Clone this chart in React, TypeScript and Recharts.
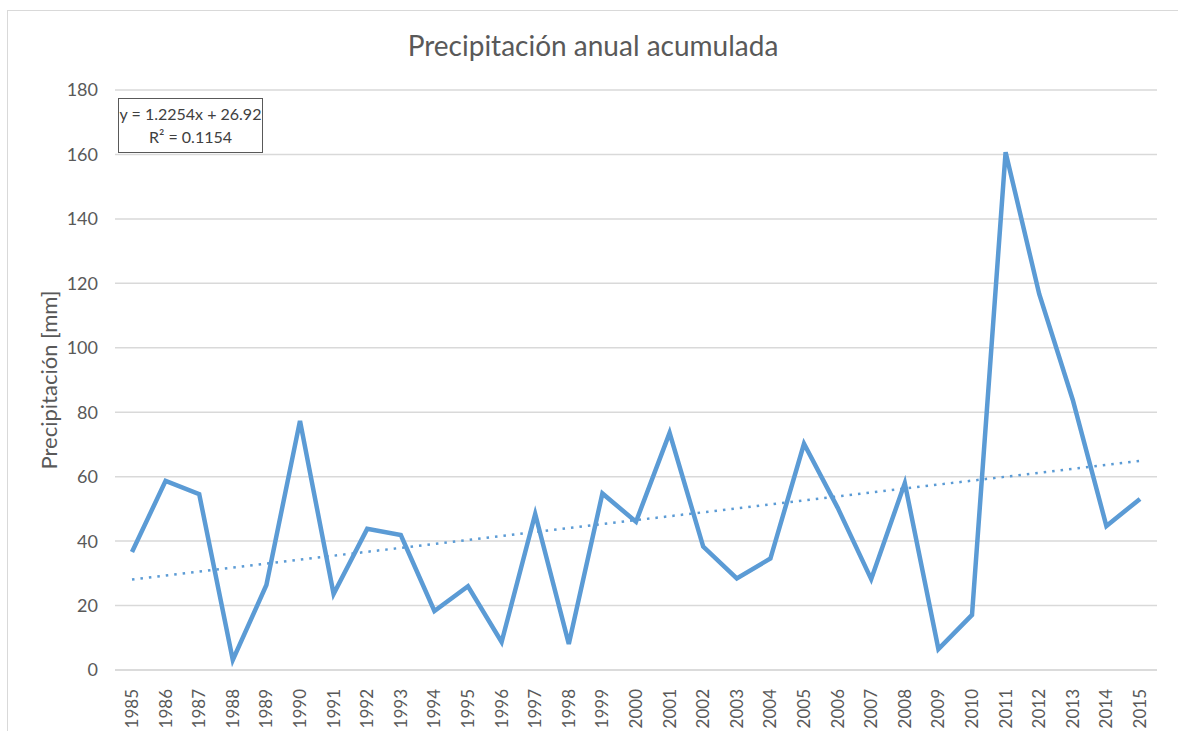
import { LineChart, Line, XAxis, YAxis, CartesianGrid, ReferenceLine } from 'recharts';

const years = [
  '1985', '1986', '1987', '1988', '1989', '1990', '1991', '1992', '1993', '1994', '1995',
  '1996', '1997', '1998', '1999', '2000', '2001', '2002', '2003', '2004', '2005', '2006',
  '2007', '2008', '2009', '2010', '2011', '2012', '2013', '2014', '2015',
];

const precipitation = [
  36.6, 58.7, 54.6, 3.1, 26.4, 77.3, 23.6, 43.8, 41.9, 18.3, 26,
  8.7, 48.4, 8.1, 54.8, 46, 73.6, 38.3, 28.4, 34.6, 70.2, 50.4,
  28.2, 58, 6.5, 17.1, 160.7, 116.7, 83.8, 44.7, 53.1,
];

const yTicks = [0, 20, 40, 60, 80, 100, 120, 140, 160, 180];

// extremos de la línea de tendencia (y = 1.2254x + 26.92)
const trendStart = 28.1;
const trendEnd = 64.9;

const data = years.map((year, i) => ({ year, value: precipitation[i] }));

const FONT = 'Lato, "Open Sans", sans-serif';
const TEXT = '#595959';
const BLUE = '#5b9bd5';

const YearTick = (props: any) => {
  const { x, y, payload } = props;
  return (
    <text
      x={0}
      y={0}
      transform={`translate(${x + 6},${y + 11}) rotate(-90)`}
      textAnchor="end"
      fill={TEXT}
      fontSize={17}
      fontFamily={FONT}
    >
      {payload.value}
    </text>
  );
};

export default function App() {
  return (
    <div style={{ position: 'absolute', left: 0, top: 0, width: 1178, height: 731, background: '#fff', overflow: 'hidden' }}>
      <div
        style={{
          position: 'absolute', left: 7, top: 10, width: 1200, height: 760,
          border: '1px solid #d9d9d9', boxSizing: 'border-box',
        }}
      />
      <div
        style={{
          position: 'absolute', left: 0, top: 28, width: 1186, textAlign: 'center',
          fontFamily: FONT, fontSize: 28, color: TEXT,
        }}
      >
        Precipitación anual acumulada
      </div>
      <LineChart
        width={1178}
        height={731}
        data={data}
        margin={{ top: 90, right: 21, bottom: 0, left: 0 }}
        style={{ position: 'absolute', left: 0, top: 0 }}
      >
        <CartesianGrid vertical={false} stroke="#d9d9d9" strokeWidth={1.5} />
        <XAxis
          dataKey="year"
          interval={0}
          padding={{ left: 17, right: 17 }}
          tick={<YearTick />}
          tickLine={false}
          axisLine={{ stroke: '#d9d9d9', strokeWidth: 1.5 }}
          height={61}
        />
        <YAxis
          width={115}
          domain={[0, 180]}
          ticks={yTicks}
          tickLine={false}
          axisLine={false}
          tickMargin={11}
          tick={{ fill: TEXT, fontSize: 18, fontFamily: FONT }}
          label={{
            value: 'Precipitación [mm]',
            angle: -90,
            position: 'insideLeft',
            dx: 44,
            style: { textAnchor: 'middle', fill: TEXT, fontSize: 22, fontFamily: FONT },
          }}
        />
        <ReferenceLine
          segment={[{ x: years[0], y: trendStart }, { x: years[years.length - 1], y: trendEnd }]}
          stroke={BLUE}
          strokeWidth={2.5}
          strokeDasharray="2.5 6"
        />
        <Line
          type="linear"
          dataKey="value"
          stroke={BLUE}
          strokeWidth={4.5}
          dot={false}
          activeDot={false}
          isAnimationActive={false}
        />
      </LineChart>
      <div
        style={{
          position: 'absolute', left: 118, top: 98, width: 145, height: 55,
          border: '1.5px solid #595959', boxSizing: 'border-box', background: '#fff',
          fontFamily: FONT, fontSize: 16, color: '#404040', textAlign: 'center',
          lineHeight: '23px', paddingTop: 3,
        }}
      >
        y = 1.2254x + 26.92
        <br />
        R² = 0.1154
      </div>
    </div>
  );
}
